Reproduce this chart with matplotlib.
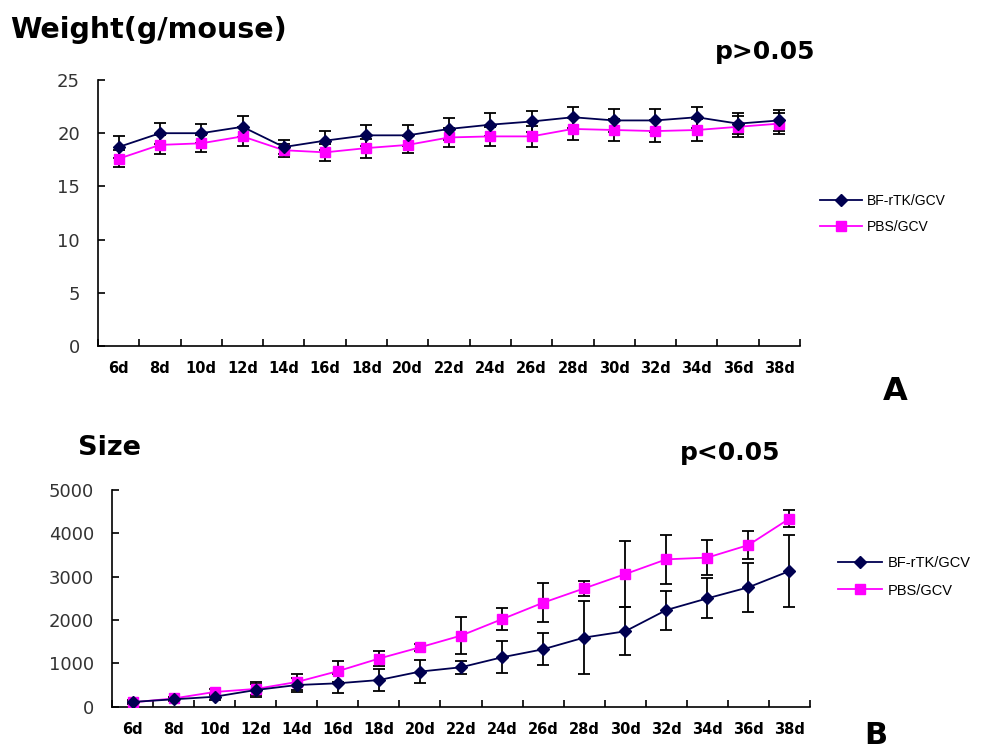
import matplotlib
matplotlib.use("Agg")
import matplotlib.pyplot as plt
import numpy as np

days = ['6d', '8d', '10d', '12d', '14d', '16d', '18d', '20d', '22d',
        '24d', '26d', '28d', '30d', '32d', '34d', '36d', '38d']

# panel A - body weight
weight_bf = [18.7, 20.0, 20.0, 20.6, 18.7, 19.3, 19.8, 19.8, 20.4,
             20.8, 21.1, 21.5, 21.2, 21.2, 21.5, 20.9, 21.2]
weight_bf_err = [1.0, 1.0, 0.9, 1.0, 0.7, 0.9, 1.0, 1.0, 1.0,
                 1.1, 1.0, 1.0, 1.1, 1.1, 1.0, 1.0, 1.0]
weight_pbs = [17.6, 18.9, 19.05, 19.7, 18.4, 18.2, 18.6, 18.9, 19.6,
              19.7, 19.7, 20.4, 20.3, 20.2, 20.3, 20.6, 20.9]
weight_pbs_err = [0.8, 0.9, 0.8, 0.9, 0.6, 0.8, 0.9, 0.8, 0.9,
                  0.9, 1.0, 1.0, 1.0, 1.0, 1.0, 1.0, 1.0]

# panel B - tumour size
size_bf = [110, 170, 230, 385, 500, 540, 615, 810, 910,
           1140, 1325, 1595, 1740, 2230, 2500, 2755, 3130]
size_bf_err = [40, 50, 80, 150, 170, 220, 250, 270, 150,
               370, 370, 840, 550, 450, 460, 560, 840]
size_pbs = [100, 190, 340, 410, 570, 820, 1110, 1370, 1640,
            2020, 2400, 2730, 3060, 3400, 3440, 3730, 4340]
size_pbs_err = [30, 40, 60, 150, 190, 240, 170, 80, 430,
                260, 450, 180, 760, 560, 400, 320, 190]

labels = ['BF-rTK/GCV', 'PBS/GCV']
navy = '#000050'
pink = '#ff00ff'

fig = plt.figure(figsize=(9.94, 7.49), dpi=100)
axA = fig.add_axes([98/994, 1-346/749, 702/994, 266/749])
axB = fig.add_axes([112/994, 1-706.7/749, 698/994, 216.7/749])

x = np.arange(len(days))


def draw(ax, bf, bf_err, pbs, pbs_err, yticks):
    ax.errorbar(x, bf, yerr=bf_err, fmt='none', ecolor='black',
                elinewidth=1.3, capsize=4, capthick=1.3, zorder=2)
    ax.errorbar(x, pbs, yerr=pbs_err, fmt='none', ecolor='black',
                elinewidth=1.3, capsize=4, capthick=1.3, zorder=2)
    l1, = ax.plot(x, bf, color=navy, lw=1.3, marker='D', ms=6.5,
                  mfc=navy, mec=navy, zorder=4, label=labels[0])
    l2, = ax.plot(x, pbs, color=pink, lw=1.3, marker='s', ms=7,
                  mfc=pink, mec=pink, zorder=3, label=labels[1])
    ax.set_xlim(-0.5, len(days) - 0.5)
    ax.set_ylim(yticks[0], yticks[-1])
    ax.set_yticks(yticks)
    ax.set_xticks(x)
    ax.set_xticklabels(days, fontsize=10.5, fontweight='bold')
    ax.set_xticks(np.arange(len(days) + 1) - 0.5, minor=True)
    ax.tick_params(axis='x', which='major', length=0, pad=11)
    ax.tick_params(axis='x', which='minor', direction='in', length=5, width=1.2)
    ax.tick_params(axis='y', direction='in', length=5, width=1.2, pad=13,
                   labelsize=13, labelcolor='#333333')
    for s in ['top', 'right']:
        ax.spines[s].set_visible(False)
    for s in ['left', 'bottom']:
        ax.spines[s].set_linewidth(1.2)
    return l1, l2


hA = draw(axA, weight_bf, weight_bf_err, weight_pbs, weight_pbs_err, [0, 5, 10, 15, 20, 25])
hB = draw(axB, size_bf, size_bf_err, size_pbs, size_pbs_err, [0, 1000, 2000, 3000, 4000, 5000])

fig.legend(handles=hA, loc='center left', bbox_to_anchor=(820/994, 1-214/749),
           frameon=False, handlelength=3, handletextpad=0.4,
           labelspacing=0.9, borderpad=0, borderaxespad=0,
           prop={'family': 'Liberation Sans', 'size': 10})
fig.legend(handles=hB, loc='center left', bbox_to_anchor=(838/994, 1-577/749),
           frameon=False, handlelength=3, handletextpad=0.4,
           labelspacing=0.9, borderpad=0, borderaxespad=0,
           prop={'family': 'Liberation Sans', 'size': 10.5})

fig.text(10/994, 1-30/749, 'Weight(g/mouse)', fontsize=20.5, fontweight='bold', va='center')
fig.text(715/994, 1-52/749, 'p>0.05', fontsize=18, fontweight='bold', va='center')
fig.text(895/994, 1-392/749, 'A', fontsize=23, fontweight='bold', va='center', ha='center')
fig.text(78/994, 1-448/749, 'Size', fontsize=19.5, fontweight='bold', va='center')
fig.text(680/994, 1-453/749, 'p<0.05', fontsize=18, fontweight='bold', va='center')
fig.text(876/994, 1-735/749, 'B', fontsize=22, fontweight='bold', va='center', ha='center')

fig.savefig('out.png', dpi=100)
